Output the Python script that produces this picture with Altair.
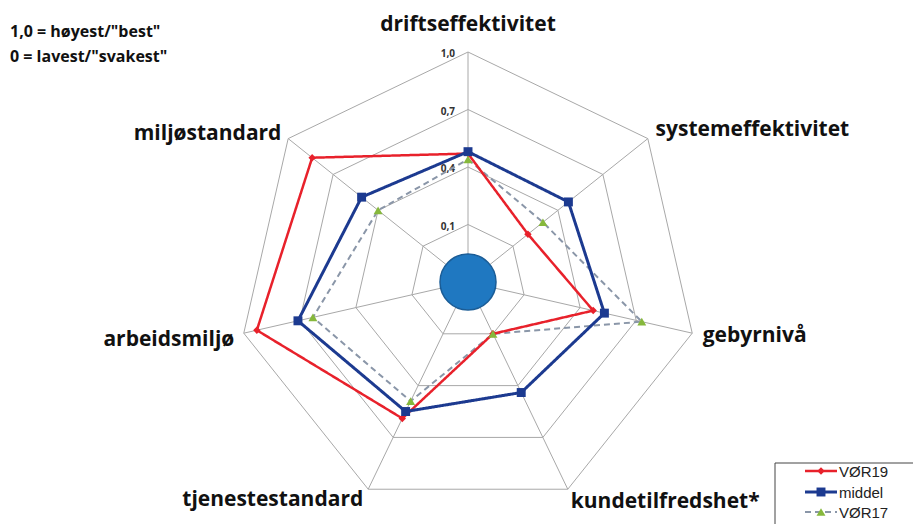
import altair as alt
import pandas as pd

# ---------------- data ----------------
categories = ["driftseffektivitet", "systemeffektivitet", "gebyrnivå", "kundetilfredshet*",
              "tjenestestandard", "arbeidsmiljø", "miljøstandard"]
series_names = ["VØR19", "middel", "VØR17"]
vor19 = [0.47, 0.20, 0.47, 0.10, 0.59, 0.93, 0.84]
middel = [0.48, 0.47, 0.53, 0.44, 0.55, 0.71, 0.51]
vor17 = [0.44, 0.30, 0.73, 0.10, 0.49, 0.63, 0.40]
tick_values = [1.0, 0.7, 0.4, 0.1]
tick_labels = ["1,0", "0,7", "0,4", "0,1"]
axis_min = -0.2
axis_max = 1.0
note_lines = ['1,0 = høyest/"best"', '0 = lavest/"svakest"']

# ---------------- styles ----------------
line_colors = ["#e8212b", "#1c3a90", "#8a96a8"]
marker_colors = ["#e8212b", "#1c3a90", "#86b83c"]
dashes = [[1, 0], [1, 0], [6, 4]]
widths = [2.5, 3, 2]
marker_shapes = ["diamond", "square", "triangle-up"]
marker_sizes = [55, 80, 80]

n = len(categories)
series_values = {"VØR19": vor19, "middel": middel, "VØR17": vor17}

rows = []
for s in series_names:
    vals = series_values[s]
    for k in range(n + 1):
        rows.append({"series": s, "k": k, "cat": categories[k % n], "value": vals[k % n]})
df_series = pd.DataFrame(rows)

grid_rows = []
for t in tick_values:
    for k in range(n + 1):
        grid_rows.append({"tick": t, "k": k, "value": t})
df_grid = pd.DataFrame(grid_rows)
df_spokes = pd.DataFrame({"k": list(range(n)), "value": [axis_max] * n})
df_ticks = pd.DataFrame({"k": [0] * len(tick_values), "value": tick_values, "label": tick_labels})
df_cats = pd.DataFrame({"k": list(range(n)), "cat": categories})
df_center = pd.DataFrame({"k": [0], "value": [axis_min]})

R_PX = 230.0
W, H = 905, 516
cx, cy = 460.0, 274.0
xs = alt.Scale(domain=[-cx / R_PX, (W - cx) / R_PX], nice=False, zero=False)
ys = alt.Scale(domain=[-(H - cy) / R_PX, cy / R_PX], nice=False, zero=False)

r_expr = f"(datum.value - ({axis_min})) / ({axis_max} - ({axis_min}))"


def polar(ch, r=r_expr):
    return (ch.transform_calculate(r=r, a=f"2*PI*datum.k/{n}")
              .transform_calculate(px="datum.r*sin(datum.a)", py="datum.r*cos(datum.a)"))


X = alt.X("px:Q", scale=xs, axis=None)
Y = alt.Y("py:Q", scale=ys, axis=None)

spokes = polar(alt.Chart(df_spokes)).transform_calculate(zx="0", zy="0").mark_rule(
    color="#a8a8a8", strokeWidth=1).encode(x=X, y=Y, x2="zx:Q", y2="zy:Q")

rings = polar(alt.Chart(df_grid)).mark_line(color="#a8a8a8", strokeWidth=1).encode(
    x=X, y=Y, detail="tick:N", order="k:Q")

ticks = polar(alt.Chart(df_ticks)).mark_text(
    align="right", baseline="middle", dx=-13, dy=2, fontSize=10, fontWeight="bold",
    font="Open Sans", color="#333").encode(x=X, y=Y, text="label:N")

layers = [spokes, rings, ticks]

# series lines (VØR17 at bottom, then VØR19, middel on top)
for i in [2, 0, 1]:
    s = series_names[i]
    layers.append(
        polar(alt.Chart(df_series)).transform_filter(alt.datum.series == s).mark_line(
            color=line_colors[i], strokeWidth=widths[i], strokeDash=dashes[i]).encode(
            x=X, y=Y, order="k:Q"))
for i in [0, 1, 2]:
    s = series_names[i]
    layers.append(
        polar(alt.Chart(df_series)).transform_filter(
            (alt.datum.series == s) & (alt.datum.k < n)).mark_point(
            filled=True, shape=marker_shapes[i], size=marker_sizes[i], color=marker_colors[i],
            opacity=1).encode(x=X, y=Y))

center = polar(alt.Chart(df_center)).mark_point(
    filled=True, size=3136, shape="circle", fill="#1f78c1", stroke="#1a5c96",
    strokeWidth=1.5, opacity=1).encode(x=X, y=Y)
layers.append(center)

LBL_R = "1.06"
lbl_style = dict(fontSize=21, fontWeight="bold", font="Open Sans", color="#111")
base_lbl = polar(alt.Chart(df_cats), r=LBL_R)
layers += [
    base_lbl.transform_filter("datum.k == 0").mark_text(
        align="center", baseline="middle", dy=-13, dx=0, **lbl_style).encode(x=X, y=Y, text="cat:N"),
    base_lbl.transform_filter("datum.k >= 1 && datum.k <= 3").mark_text(
        align="left", baseline="middle", dx=-3, dy=0, **lbl_style).encode(x=X, y=Y, text="cat:N"),
    base_lbl.transform_filter("datum.k == 4").mark_text(
        align="right", baseline="middle", dx=1, dy=-2, **lbl_style).encode(x=X, y=Y, text="cat:N"),
    base_lbl.transform_filter("datum.k == 5 || datum.k == 6").mark_text(
        align="right", baseline="middle", dx=4, dy=4, **lbl_style).encode(x=X, y=Y, text="cat:N"),
]

# note text (top-left)
for j, line in enumerate(note_lines):
    layers.append(alt.Chart(pd.DataFrame({"t": [line]})).mark_text(
        align="left", baseline="middle", fontSize=16, fontWeight="bold",
        font="Open Sans", color="#111").encode(
        x=alt.value(2), y=alt.value(24 + 25 * j), text="t:N"))

# legend (bottom-right, cut by the frame like the original)
LX, LY = 767, 455
layers.append(alt.Chart(pd.DataFrame({"t": [0]})).mark_rect(
    fill="white", stroke="#444", strokeWidth=1).encode(
    x=alt.value(LX), x2=alt.value(LX + 200), y=alt.value(LY), y2=alt.value(LY + 120)))
row_y = [8, 29, 49]
for i, s in enumerate(series_names):
    yy = LY + row_y[i]
    layers.append(alt.Chart(pd.DataFrame({"t": [s]})).mark_rule(
        color=line_colors[i], strokeWidth=widths[i], strokeDash=dashes[i]).encode(
        x=alt.value(LX + 30), x2=alt.value(LX + 62), y=alt.value(yy)))
    layers.append(alt.Chart(pd.DataFrame({"t": [s]})).mark_point(
        filled=True, shape=marker_shapes[i], size=marker_sizes[i], color=marker_colors[i],
        opacity=1).encode(x=alt.value(LX + 46), y=alt.value(yy)))
    layers.append(alt.Chart(pd.DataFrame({"t": [s]})).mark_text(
        align="left", baseline="middle", fontSize=15, font="Liberation Sans",
        color="#222").encode(x=alt.value(LX + 64), y=alt.value(yy + 1), text="t:N"))

chart = alt.layer(*layers).properties(
    width=W, height=H, padding=0, autosize=alt.AutoSizeParams(type="none"),
    background="white"
).configure_view(stroke=None)

chart.save("out.html", embed_options={"renderer": "svg", "actions": False})
